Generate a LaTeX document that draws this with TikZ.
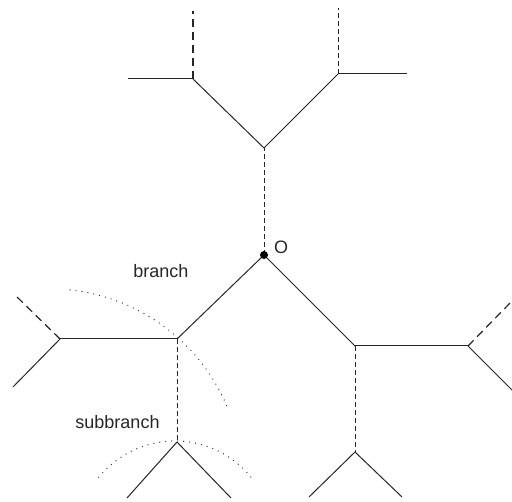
\documentclass[tikz,border=0pt]{standalone}
\usepackage{fontspec}
\setmainfont{Liberation Sans}
\begin{document}
\begin{tikzpicture}[x=1pt,y=-1pt,
  edge/.style={line width=1pt,draw=black!85},
  longdash/.style={line width=1.2pt,draw=black!85,dash pattern=on 8pt off 5pt},
  shortdash/.style={line width=1pt,draw=black!85,dash pattern=on 5pt off 3pt},
  dotline/.style={line width=1.3pt,draw=black!85,line cap=round,dash pattern=on 0pt off 6pt},
  lbl/.style={font=\fontsize{18}{20}\selectfont,text=black!85,inner sep=0pt}]
\useasboundingbox (0,0) rectangle (512,502);
% coordinates
\coordinate (O) at (264,255);
\coordinate (C) at (264,148);
\coordinate (A) at (193,79);
\coordinate (Aup) at (193,11);
\coordinate (Al) at (128,79);
\coordinate (B) at (338,74);
\coordinate (Bup) at (338,8);
\coordinate (Br) at (407,74);
\coordinate (D) at (177,339);
\coordinate (E) at (60,339);
\coordinate (Eup) at (15,295);
\coordinate (Edn) at (13,387);
\coordinate (F) at (177,442);
\coordinate (Fl) at (127,498);
\coordinate (Fr) at (231,498);
\coordinate (G) at (355,346);
\coordinate (H) at (468,346);
\coordinate (Hup) at (512,301);
\coordinate (Hdn) at (512,390);
\coordinate (I) at (355,452);
\coordinate (Il) at (309,497);
\coordinate (Ir) at (402,497);
% top
\draw[shortdash] (O) -- (C);
\draw[edge] (C) -- (A);
\draw[edge] (C) -- (B);
\draw[longdash] (A) -- (Aup);
\draw[edge] (A) -- (Al);
\draw[shortdash] (B) -- (Bup);
\draw[edge] (B) -- (Br);
% left
\draw[edge] (O) -- (D);
\draw[edge] (D) -- (E);
\draw[longdash] (E) -- (Eup);
\draw[edge] (E) -- (Edn);
\draw[shortdash] (D) -- (F);
\draw[edge] (F) -- (Fl);
\draw[edge] (F) -- (Fr);
% right
\draw[edge] (O) -- (G);
\draw[edge] (G) -- (H);
\draw[longdash] (H) -- (Hup);
\draw[edge] (H) -- (Hdn);
\draw[shortdash] (G) -- (I);
\draw[edge] (I) -- (Il);
\draw[edge] (I) -- (Ir);
% dotted arcs
\coordinate (arc1) at (70.1,290);
\coordinate (arc2) at (98.8,477.3);
\draw[dotline] (arc1) arc[start angle=-84, end angle=-22, radius=192];
\draw[dotline] (arc2) arc[start angle=-141, end angle=-39, radius=98];
% dot and labels
\fill[black] (O) circle[radius=4];
\node[lbl] (lO) at (281,247) {O};
\node[lbl] (lbranch) at (161,271) {branch};
\node[lbl] (lsub) at (117.5,422) {subbranch};
\end{tikzpicture}
\end{document}
